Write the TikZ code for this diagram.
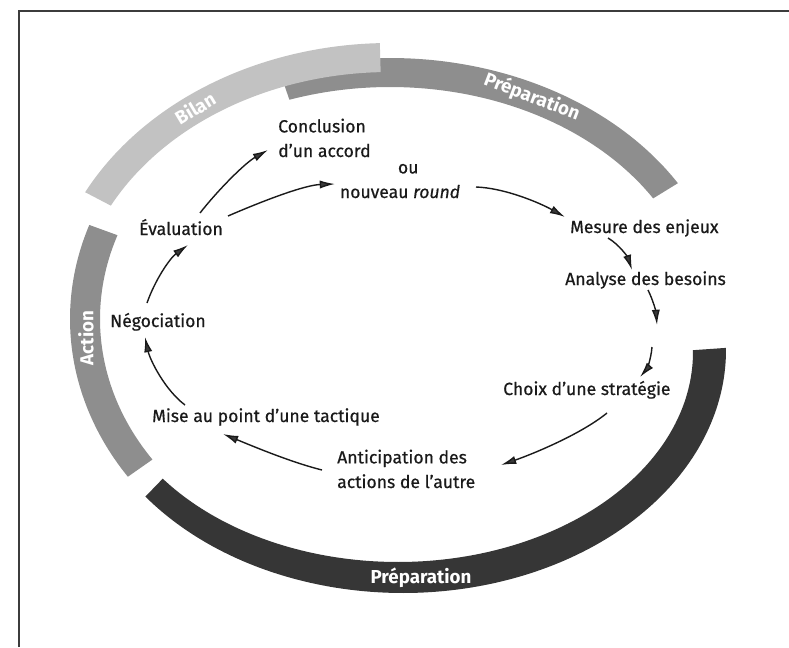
\documentclass[tikz,border=0pt]{standalone}
\usepackage{fontspec}
\setmainfont{Fira Sans}
\newfontfamily\stepfont{Fira Sans}[FakeBold=0.6]
\usetikzlibrary{arrows.meta}
\definecolor{bandlight}{HTML}{C2C2C2}
\definecolor{bandmid}{HTML}{8E8E8E}
\definecolor{banddark}{HTML}{363636}
\definecolor{ink}{HTML}{1A1A1A}
\definecolor{tipgray}{HTML}{3A3A3A}
\definecolor{framegray}{HTML}{3C3C3C}
\tikzset{
  lbl/.style={font=\stepfont\fontsize{15}{21}\selectfont, text=ink, inner sep=0pt},
  flow/.style={draw=ink, line width=1.2pt,
    -{Latex[length=13pt,width=7pt,fill=tipgray]}},
  bandtext/.style={font=\fontsize{16}{18}\selectfont\bfseries, text=white, inner sep=0pt},
}
\begin{document}
\begin{tikzpicture}[x=0.03cm, y=-0.03cm]
\useasboundingbox (0,0) rectangle (789,647);

% frame (left and top edges)
\draw[framegray, line width=1.6pt] (19,647) -- (19,11) -- (789,11);

% ring segments: filled between an outer and an inner elliptical arc
% upper "Préparation"
\fill[bandmid] plot[domain=251:328.4, samples=90] ({390+338*cos(\x)},{321+263*sin(\x)})
  -- plot[domain=328.4:251, samples=90] ({390+309*cos(\x)},{321+234*sin(\x)}) -- cycle;
% "Bilan" (drawn over the upper band)
\fill[bandlight] plot[domain=207.6:268.3, samples=90] ({390+344*cos(\x)},{321+278*sin(\x)})
  -- plot[domain=268.3:207.6, samples=90] ({390+315*cos(\x)},{321+249*sin(\x)}) -- cycle;
% "Action"
\fill[bandmid] plot[domain=145:200, samples=90] ({390+320*cos(\x)},{319+275*sin(\x)})
  -- plot[domain=200:145, samples=90] ({390+290*cos(\x)},{319+245*sin(\x)}) -- cycle;
% lower "Préparation"
\fill[banddark] plot[domain=-0.5:142.9, samples=120] ({403+323*cos(\x)},{350+243*sin(\x)})
  -- plot[domain=142.9:-0.5, samples=120] ({398+295*cos(\x)},{352+210*sin(\x)}) -- cycle;

% band labels
\node[bandtext, rotate=31] (tBilan) at (195,108) {Bilan};
\node[bandtext, rotate=-21] (tPrepTop) at (532,97) {Préparation};
\node[bandtext, rotate=90] (tAction) at (86,338) {Action};
\node[bandtext] (tPrepBot) at (421,578) {Préparation};

% steps of the cycle
\node[lbl, anchor=base west, align=left] (concl) at (278,157) {Conclusion\\d’un accord};
\node[lbl, anchor=base, align=center] (round) at (400,198) {\hspace*{14pt}ou\\nouveau \textit{round}};
\node[lbl, anchor=base west] (mesure) at (570,233) {Mesure des enjeux};
\node[lbl, anchor=base west] (besoins) at (565,285) {Analyse des besoins};
\node[lbl, anchor=base west] (choix) at (503,395) {Choix d’une stratégie};
\node[lbl, anchor=base west, align=left] (anticip) at (337,488) {Anticipation des\\actions de l’autre};
\node[lbl, anchor=base west] (tactique) at (152,422) {Mise au point d’une tactique};
\node[lbl, anchor=base west] (nego) at (110,327) {Négociation};
\node[lbl, anchor=base west] (eval) at (139,235) {Évaluation};

% arrow end points
\coordinate (evalA) at (200,213);   \coordinate (conclIn) at (268,150);
\coordinate (evalB) at (228,216);   \coordinate (roundIn) at (335,184);
\coordinate (roundOut) at (476,187); \coordinate (mesureIn) at (565,217);
\coordinate (mesureOut) at (608,238); \coordinate (besoinsIn) at (632,270);
\coordinate (besoinsOut) at (648,290); \coordinate (midIn) at (657,325);
\coordinate (midOut) at (652,347);  \coordinate (choixIn) at (640,377);
\coordinate (choixOut) at (607,413); \coordinate (anticipIn) at (501,465);
\coordinate (anticipOut) at (322,470); \coordinate (tactiqueIn) at (223,434);
\coordinate (tactiqueOut) at (185,405); \coordinate (negoIn) at (145,337);
\coordinate (negoOut) at (147,303);  \coordinate (evalIn) at (188,245);

% the cycle
\draw[flow] (evalA) .. controls (218,190) and (245,163) .. (conclIn);
\draw[flow] (evalB) .. controls (265,200) and (305,185) .. (roundIn);
\draw[flow] (roundOut) .. controls (505,188) and (540,203) .. (mesureIn);
\draw[flow] (mesureOut) .. controls (620,245) and (628,258) .. (besoinsIn);
\draw[flow] (besoinsOut) .. controls (653,300) and (656,312) .. (midIn);
\draw[flow] (midOut) .. controls (651,360) and (646,370) .. (choixIn);
\draw[flow] (choixOut) .. controls (580,435) and (530,455) .. (anticipIn);
\draw[flow] (anticipOut) .. controls (290,462) and (250,445) .. (tactiqueIn);
\draw[flow] (tactiqueOut) .. controls (165,390) and (150,360) .. (negoIn);
\draw[flow] (negoOut) .. controls (155,280) and (170,258) .. (evalIn);
\end{tikzpicture}
\end{document}
